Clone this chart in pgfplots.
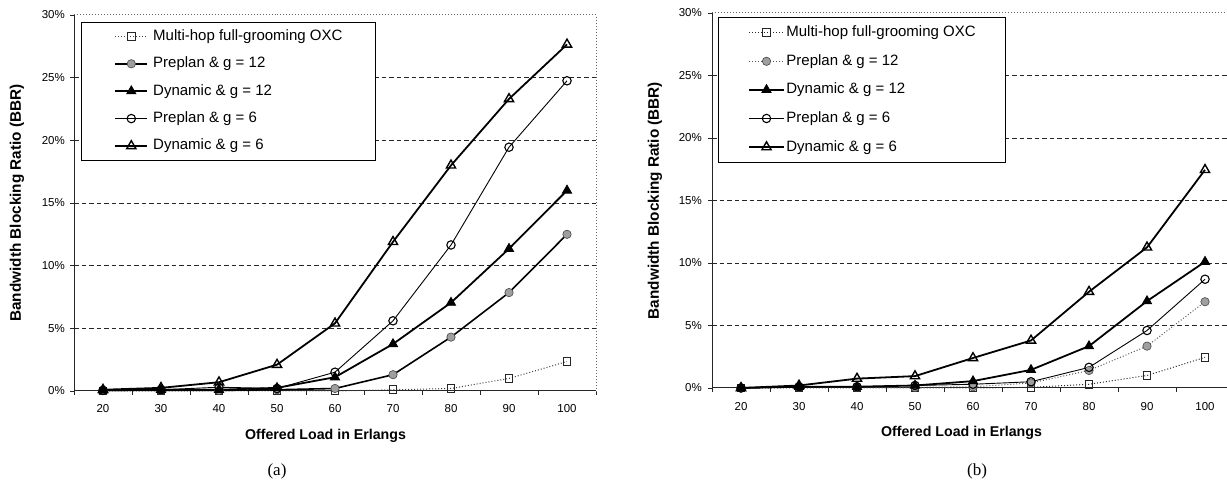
\documentclass[border=0pt]{standalone}
\usepackage{fontspec}
\setmainfont{Liberation Sans}
\newfontfamily\capfont{Liberation Serif}
\usepackage{pgfplots}
\pgfplotsset{compat=1.18}

\pgfplotsset{
  bbr/.style={
    scale only axis, width=522bp,
    xmin=15, xmax=105, ymin=0, ymax=30,
    axis x line*=bottom, axis y line*=left,
    axis line style={-, line width=1bp, black!85},
    xtick={20,30,...,100},
    minor xtick={15,25,...,105},
    ytick={0,5,...,30},
    extra y ticks={5,10,15,20,25},
    extra y tick style={ymajorgrids=true, yticklabels={}, major tick length=0pt},
    major grid style={dash pattern=on 4.5bp off 3bp, line width=0.8bp, black!85},
    tick align=outside,
    x tick style={draw=none},
    minor x tick style={draw=black!85, line width=0.8bp},
    minor tick length=4bp,
    y tick style={draw=black!85, line width=0.8bp},
    major tick length=4bp,
    /pgf/number format/assume math mode=true,
    tick label style={font=\fontsize{11.5bp}{13bp}\selectfont},
    yticklabel={\pgfmathprintnumber{\tick}\%},
    yticklabel style={inner sep=0pt, anchor=east},
    xticklabel style={inner sep=0pt, anchor=center},
    every axis x label/.style={at={(axis description cs:0.5,0)}, anchor=center, yshift=-45bp},
    every axis y label/.style={at={(axis description cs:0,0.5)}, xshift=-57bp, rotate=90, anchor=center},
    xlabel style={font=\bfseries\fontsize{14.2bp}{16bp}\selectfont},
    ylabel style={font=\bfseries\fontsize{15.3bp}{17bp}\selectfont},
    xlabel={Offered Load in Erlangs},
    ylabel={Bandwidth Blocking Ratio (BBR)},
    legend cell align=left,
    clip=false,
  },
  smulti/.style={black!75, dotted, line width=1bp, mark=square, mark size=3.8bp,
     mark options={solid, draw=black!85, fill=white, line width=0.9bp}},
  sdyn12/.style={black, solid, line width=1.8bp, mark=triangle*, mark size=5.3bp,
     mark options={solid, fill=black, line width=0.8bp}},
  spre6/.style={black, solid, line width=0.9bp, mark=o, mark size=4.2bp,
     mark options={solid, line width=1.1bp}},
  sdyn6/.style={black, solid, line width=1.8bp, mark=triangle, mark size=5.3bp,
     mark options={solid, fill=white, line width=1.4bp}},
}

\begin{document}
\begin{tikzpicture}[x=1bp,y=1bp]
\useasboundingbox (0,0) rectangle (1227,481);

% ---------------- (a) ----------------
\begin{axis}[bbr, at={(74bp,90bp)}, anchor=south west, height=376bp,
  xticklabel style={yshift=-14bp},
  yticklabel style={xshift=-5bp},
  xlabel style={xshift=-9.5bp},
  legend image code/.code={\draw[mark repeat=2,mark phase=2,#1] plot coordinates {(0bp,0bp) (16bp,0bp) (32bp,0bp)};},
  legend style={at={(rel axis cs:0,1)}, xshift=7bp, yshift=-7bp, anchor=north west,
    draw=black, line width=0.8bp, fill=white, inner xsep=33bp, inner ysep=7bp,
    row sep=13.4bp, column sep=5bp,
    nodes={inner sep=0pt, text height=11bp, text depth=3bp},
    font=\fontsize{15bp}{17bp}\selectfont},
]
\addplot[smulti] coordinates {(20,0) (30,0) (40,0) (50,0) (60,0) (70,0.1) (80,0.2) (90,1.0) (100,2.35)};
\addlegendentry{Multi-hop full-grooming OXC}
\addplot[black, solid, line width=1.6bp, mark=*, mark size=4.2bp,
  mark options={solid, fill=gray!75, draw=gray!55!black, line width=0.6bp}]
  coordinates {(20,0.05) (30,0.05) (40,0.05) (50,0.1) (60,0.2) (70,1.3) (80,4.3) (90,7.85) (100,12.5)};
\addlegendentry{Preplan \& g = 12}
\addplot[sdyn12] coordinates {(20,0.05) (30,0.1) (40,0.1) (50,0.25) (60,1.1) (70,3.75) (80,7.05) (90,11.35) (100,16.0)};
\addlegendentry{Dynamic \& g = 12}
\addplot[spre6] coordinates {(20,0.05) (30,0.1) (40,0.3) (50,0.2) (60,1.5) (70,5.6) (80,11.65) (90,19.45) (100,24.75)};
\addlegendentry{Preplan \& g = 6}
\addplot[sdyn6] coordinates {(20,0.1) (30,0.25) (40,0.7) (50,2.1) (60,5.4) (70,11.9) (80,18.0) (90,23.3) (100,27.65)};
\addlegendentry{Dynamic \& g = 6}
\draw[black!60, dotted, line width=1bp] (rel axis cs:0,1) -- (rel axis cs:1,1) -- (rel axis cs:1,0);
\end{axis}

% ---------------- (b) ----------------
\begin{axis}[bbr, at={(712bp,93bp)}, anchor=south west, height=375bp,
  xticklabel style={yshift=-15bp},
  yticklabel style={xshift=-6bp},
  xlabel style={xshift=-11.5bp},
  legend image code/.code={\draw[mark repeat=2,mark phase=2,#1] plot coordinates {(0bp,0bp) (17.5bp,0bp) (35bp,0bp)};},
  legend style={at={(rel axis cs:0,1)}, xshift=5.7bp, yshift=-3.7bp, anchor=north west,
    draw=black, line width=0.8bp, fill=white, inner xsep=30bp, inner ysep=8.6bp,
    row sep=14.6bp, column sep=1.5bp,
    nodes={inner sep=0pt, text height=11bp, text depth=3bp},
    font=\fontsize{15bp}{17bp}\selectfont},
]
\addplot[smulti, black!85] coordinates {(20,0) (30,0) (40,0) (50,0) (60,0) (70,0.05) (80,0.3) (90,1.0) (100,2.45)};
\addlegendentry{Multi-hop full-grooming OXC}
\addplot[gray!70!black, dotted, line width=1bp, mark=*, mark size=4.2bp,
  mark options={solid, fill=gray!75, draw=gray!55!black, line width=0.6bp}]
  coordinates {(20,0) (30,0.05) (40,0.05) (50,0.05) (60,0.1) (70,0.4) (80,1.4) (90,3.35) (100,6.9)};
\addlegendentry{Preplan \& g = 12}
\addplot[sdyn12] coordinates {(20,0) (30,0.1) (40,0.1) (50,0.2) (60,0.55) (70,1.45) (80,3.35) (90,6.95) (100,10.1)};
\addlegendentry{Dynamic \& g = 12}
\addplot[spre6] coordinates {(20,0) (30,0.1) (40,0.1) (50,0.2) (60,0.3) (70,0.5) (80,1.65) (90,4.6) (100,8.7)};
\addlegendentry{Preplan \& g = 6}
\addplot[sdyn6] coordinates {(20,0) (30,0.2) (40,0.75) (50,0.95) (60,2.4) (70,3.8) (80,7.7) (90,11.25) (100,17.45)};
\addlegendentry{Dynamic \& g = 6}
\draw[black!60, dotted, line width=1bp] (rel axis cs:0,1) -- (rel axis cs:1,1) -- (rel axis cs:1,0);
\end{axis}

\node[font=\capfont\fontsize{17bp}{19bp}\selectfont] at (277,9.5) {(a)};
\node[font=\capfont\fontsize{17bp}{19bp}\selectfont] at (977,9.5) {(b)};
\end{tikzpicture}
\end{document}
